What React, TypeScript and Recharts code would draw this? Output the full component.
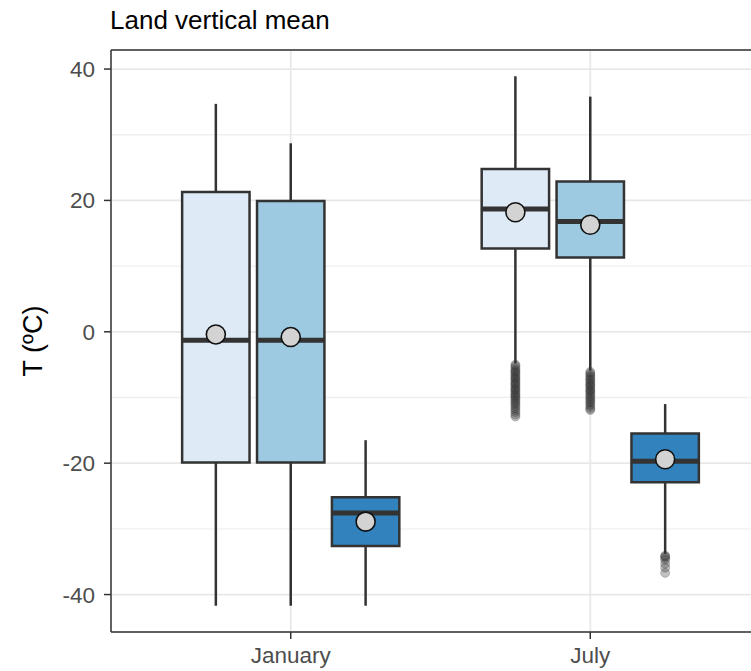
import React from 'react';
import {
  ComposedChart,
  XAxis,
  YAxis,
  CartesianGrid,
  ReferenceArea,
  ReferenceLine,
  Scatter,
} from 'recharts';

// categories and box positions inside each category
const months = ['January', 'July'];
const dodge = [-0.25, 0, 0.25];
const boxFills = ['#DEEBF7', '#9ECAE1', '#3182BD'];

// box stats, order: Jan 1-3, Jul 1-3
const whiskerLow = [-41.7, -41.7, -41.7, -4.8, -5.9, -33.8];
const lowerQuartile = [-19.9, -19.9, -32.6, 12.7, 11.3, -22.9];
const medians = [-1.3, -1.3, -27.6, 18.7, 16.8, -19.7];
const upperQuartile = [21.3, 19.9, -25.2, 24.8, 22.9, -15.5];
const whiskerHigh = [34.7, 28.7, -16.5, 38.9, 35.8, -11.0];
const means = [-0.4, -0.8, -28.9, 18.2, 16.3, -19.4];
const outliers = [
  [],
  [],
  [],
  [-5.0, -5.2, -5.5, -5.8, -6.0, -6.2, -6.4, -6.7, -6.9, -7.1, -7.3, -7.6, -7.8, -8.0, -8.2, -8.5, -8.7,
    -8.9, -9.1, -9.4, -9.6, -9.8, -10.0, -10.3, -10.5, -10.8, -11.0, -11.3, -11.6, -11.9, -12.2, -12.6, -12.9],
  [-6.1, -6.3, -6.6, -6.8, -7.1, -7.3, -7.5, -7.8, -8.0, -8.2, -8.4, -8.7, -8.9, -9.1, -9.3, -9.6, -9.8,
    -10.1, -10.3, -10.6, -10.8, -11.1, -11.4, -11.7, -11.9],
  [-34.1, -34.2, -34.4, -34.7, -35.3, -35.9, -36.7],
];

const yTicks = [-40, -20, 0, 20, 40];
const yMinorTicks = [-30, -10, 10, 30];
const yDomain: [number, number] = [-45.7, 42.9];
const xDomain: [number, number] = [0.4, 2.6];
const boxHalf = 0.1125;

const boxes = medians.map((m, i) => ({
  x: Math.floor(i / 3) + 1 + dodge[i % 3],
  fill: boxFills[i % 3],
  lo: whiskerLow[i],
  q1: lowerQuartile[i],
  med: m,
  q3: upperQuartile[i],
  hi: whiskerHigh[i],
}));

const meanPoints = boxes.map((b, i) => ({ x: b.x, y: means[i] }));
const outlierPoints = boxes.flatMap((b, i) => outliers[i].map((v) => ({ x: b.x, y: v })));

const MeanDot = (p: any) => (
  <circle cx={p.cx} cy={p.cy} r={9.5} fill="#D3D3D3" stroke="#111" strokeWidth={1.6} />
);
const OutlierDot = (p: any) => (
  <circle cx={p.cx} cy={p.cy} r={4.5} fill="#333" fillOpacity={0.3} stroke="#333" strokeOpacity={0.25} />
);

const dark = '#333333';

export default function App() {
  return (
    <div
      style={{
        position: 'absolute',
        left: 0,
        top: 0,
        width: 751,
        height: 671,
        overflow: 'hidden',
        background: '#fff',
        fontFamily: '"Liberation Sans", Arial, sans-serif',
      }}
    >
      <div
        style={{
          position: 'absolute',
          left: 110,
          top: 7,
          fontSize: 26,
          lineHeight: '26px',
          color: '#000',
          whiteSpace: 'nowrap',
        }}
      >
        Land vertical mean
      </div>
      <div
        style={{
          position: 'absolute',
          left: 33 - 100,
          top: 341 - 15,
          width: 200,
          height: 30,
          lineHeight: '30px',
          fontSize: 27,
          textAlign: 'center',
          transform: 'rotate(-90deg)',
          color: '#000',
          whiteSpace: 'nowrap',
        }}
      >
        T (ºC)
      </div>
      <div style={{ position: 'absolute', left: 0, top: 0 }}>
        <ComposedChart width={780} height={671} margin={{ top: 50, right: 10, bottom: 0, left: 0 }}>
          <CartesianGrid yAxisId="minor" vertical={false} stroke="#F0F0F0" strokeWidth={1.3} />
          <CartesianGrid stroke="#E8E8E8" strokeWidth={1.8} />
          <XAxis
            type="number"
            dataKey="x"
            domain={xDomain}
            ticks={[1, 2]}
            allowDataOverflow
            tickFormatter={(v: number) => months[v - 1]}
            height={39}
            tickSize={7}
            tickMargin={8}
            axisLine={{ stroke: dark, strokeWidth: 1.5 }}
            tickLine={{ stroke: dark, strokeWidth: 1.5 }}
            tick={{ fill: '#4D4D4D', fontSize: 22.5 }}
          />
          <YAxis
            type="number"
            dataKey="y"
            domain={yDomain}
            ticks={yTicks}
            allowDataOverflow
            width={111}
            tickSize={7}
            tickMargin={9}
            axisLine={{ stroke: dark, strokeWidth: 1.5 }}
            tickLine={{ stroke: dark, strokeWidth: 1.5 }}
            tick={{ fill: '#4D4D4D', fontSize: 22.5 }}
          />
          <YAxis yAxisId="minor" type="number" domain={yDomain} ticks={yMinorTicks} allowDataOverflow hide />
          <ReferenceLine y={yDomain[1]} stroke={dark} strokeWidth={1.5} ifOverflow="visible" />

          {boxes.map((b, i) => (
            <ReferenceLine
              key={`wh${i}`}
              segment={[{ x: b.x, y: b.q3 }, { x: b.x, y: b.hi }]}
              stroke={dark}
              strokeWidth={2.5}
            />
          ))}
          {boxes.map((b, i) => (
            <ReferenceLine
              key={`wl${i}`}
              segment={[{ x: b.x, y: b.lo }, { x: b.x, y: b.q1 }]}
              stroke={dark}
              strokeWidth={2.5}
            />
          ))}
          {boxes.map((b, i) => (
            <ReferenceArea
              key={`box${i}`}
              x1={b.x - boxHalf}
              x2={b.x + boxHalf}
              y1={b.q1}
              y2={b.q3}
              fill={b.fill}
              fillOpacity={1}
              stroke={dark}
              strokeWidth={2.5}
            />
          ))}
          {boxes.map((b, i) => (
            <ReferenceLine
              key={`med${i}`}
              segment={[{ x: b.x - boxHalf, y: b.med }, { x: b.x + boxHalf, y: b.med }]}
              stroke={dark}
              strokeWidth={5}
            />
          ))}
          <Scatter data={outlierPoints} shape={OutlierDot} isAnimationActive={false} />
          <Scatter data={meanPoints} shape={MeanDot} isAnimationActive={false} />
        </ComposedChart>
      </div>
    </div>
  );
}
